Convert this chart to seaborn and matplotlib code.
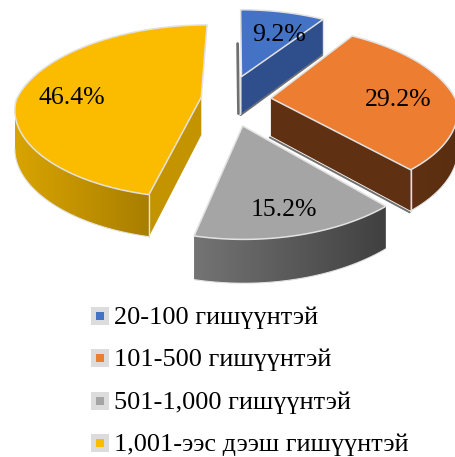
import numpy as np
import matplotlib
matplotlib.use('Agg')
import matplotlib.pyplot as plt
import seaborn as sns
from matplotlib.colors import to_rgb
from matplotlib.patches import Polygon

# Chart data
labels = ['20-100 гишүүнтэй', '101-500 гишүүнтэй', '501-1,000 гишүүнтэй', '1,001-ээс дээш гишүүнтэй']
shares = [9.2, 29.2, 15.2, 46.4]

# Colours
top_colors = ['#4472C4', '#ED7D31', '#A5A5A5', '#FBBC00']
cut_colors = ['#2F4E8C', '#5F3112', '#5A5A5A', '#C49300']
arc_left = ['#2F4E8C', '#5F3112', '#747474', '#D9A400']
arc_right = ['#2F4E8C', '#5A2E10', '#404040', '#A87E00']

sns.set_theme(style='white')
plt.rcParams['font.family'] = ['Liberation Serif', 'DejaVu Serif']

# Camera settings for the fake 3D pie
cx, cy = 236, 100
rx, ry = 185, 85
depth = 38
persp_y = 0.165
explode_x = [0.11, 0.19, 0.14, 0.19]
explode_y = [0.30, 0.30, 0.30, 0.30]
edge = '#E2E2E2'


def project(X, Y, Z=0):
    X, Y = np.asarray(X, dtype=float), np.asarray(Y, dtype=float)
    sx = 1 / (1 + np.where(Y < 0, 0.13, 0.20) * Y)
    sy = 1 / (1 + persp_y * Y)
    return cx + rx * X * sx, cy - ry * Y * sy + depth * Z * sy ** 0.6


def ring(off, t, Z=0):
    return project(off[0] + np.sin(t), off[1] + np.cos(t), Z)


fig, ax = plt.subplots(figsize=(4.56, 4.57), dpi=100)
ax.set_position([0, 0, 1, 1])
ax.axis('off')

ends = np.cumsum(shares) / np.sum(shares) * 2 * np.pi
starts = np.r_[0, ends[:-1]]

# back to front
for i in [0, 3, 1, 2]:
    t0, t1 = starts[i], ends[i]
    mid = (t0 + t1) / 2
    off = (explode_x[i] * np.sin(mid), explode_y[i] * np.cos(mid))
    ts = np.linspace(t0, t1, 160)
    ax0, ay0 = project(off[0], off[1])
    bx0, by0 = project(off[0], off[1], 1)

    # soft shadow under the blue and orange pieces
    if i in (0, 1):
        ex, ey = ring(off, t1, 1)
        ax.plot([bx0 - 1, ex - 1], [by0 + 1.5, ey + 1.5], color='#707070', lw=1.4, zorder=i + 1)
    if i == 0:
        ex, ey = ring(off, t0, 1)
        ax.plot([bx0 - 3, ex - 3], [by0, ey], color='#707070', lw=2, zorder=i + 1)
        ax.plot([ax0 - 1, bx0 - 1], [ay0, by0], color=edge, lw=1, zorder=i + 1)

    # flat cut walls that face the viewer
    for t in (t0, t1):
        visible = np.sin(t) < -1e-6 if t == t0 else np.sin(t) > 1e-6
        if visible:
            tx, ty = ring(off, t)
            ux, uy = ring(off, t, 1)
            ax.fill([ax0, tx, ux, bx0], [ay0, ty, uy, by0], color=cut_colors[i], lw=0, zorder=i + 1)
            ax.plot([tx, ux], [ty, uy], color=edge, lw=1, zorder=i + 1.2)

    # outer rim with a left to right gradient, clipped to the rim shape
    front = ts[np.cos(ts) < 0.1]
    if len(front) > 1:
        tx, ty = ring(off, front)
        # stop the rim at the silhouette of the piece
        if mid < np.pi:
            front = front[np.argmax(tx):]
        else:
            front = front[:np.argmin(tx) + 1]
        tx, ty = ring(off, front)
        ux, uy = ring(off, front, 1)
        c0, c1 = np.array(to_rgb(arc_left[i])), np.array(to_rgb(arc_right[i]))
        grad = np.linspace(c0, c1, 256)[None, :, :]
        im = ax.imshow(grad, extent=(tx.min(), tx.max(), uy.max(), ty.min()), aspect='auto',
                       interpolation='bilinear', zorder=i + 1.1)
        rim = Polygon(np.c_[np.r_[tx, ux[::-1]], np.r_[ty, uy[::-1]]], closed=True, transform=ax.transData)
        im.set_clip_path(rim)
        ax.plot(ux, uy, color=edge, lw=0.8, zorder=i + 1.2)

    # top face
    tx, ty = ring(off, ts)
    ax.fill(np.r_[ax0, tx], np.r_[ay0, ty], facecolor=top_colors[i], edgecolor=edge, lw=1.1,
            joinstyle='round', zorder=i + 1.5)

# value labels
label_pos = [(279, 35), (398, 100), (284, 210), (72, 98)]
for val, (lx, ly) in zip(shares, label_pos):
    ax.text(lx, ly, f'{val:.1f}%', fontsize=18.5, color='black', ha='center', va='center', zorder=10)

# legend
legend_y = [316, 358, 401, 443]
for name, col, ly in zip(labels, top_colors, legend_y):
    ax.scatter([100], [ly], marker='s', s=165, color='#DCDCDC', linewidths=0, zorder=5)
    ax.scatter([100], [ly], marker='s', s=40, color=col, linewidths=0, zorder=6)
    ax.text(114, ly + 2, name, fontsize=18.9, color='black', ha='left', va='center', zorder=10)

ax.set_xlim(0, 456)
ax.set_ylim(457, 0)
plt.savefig('out.png', dpi=100)
